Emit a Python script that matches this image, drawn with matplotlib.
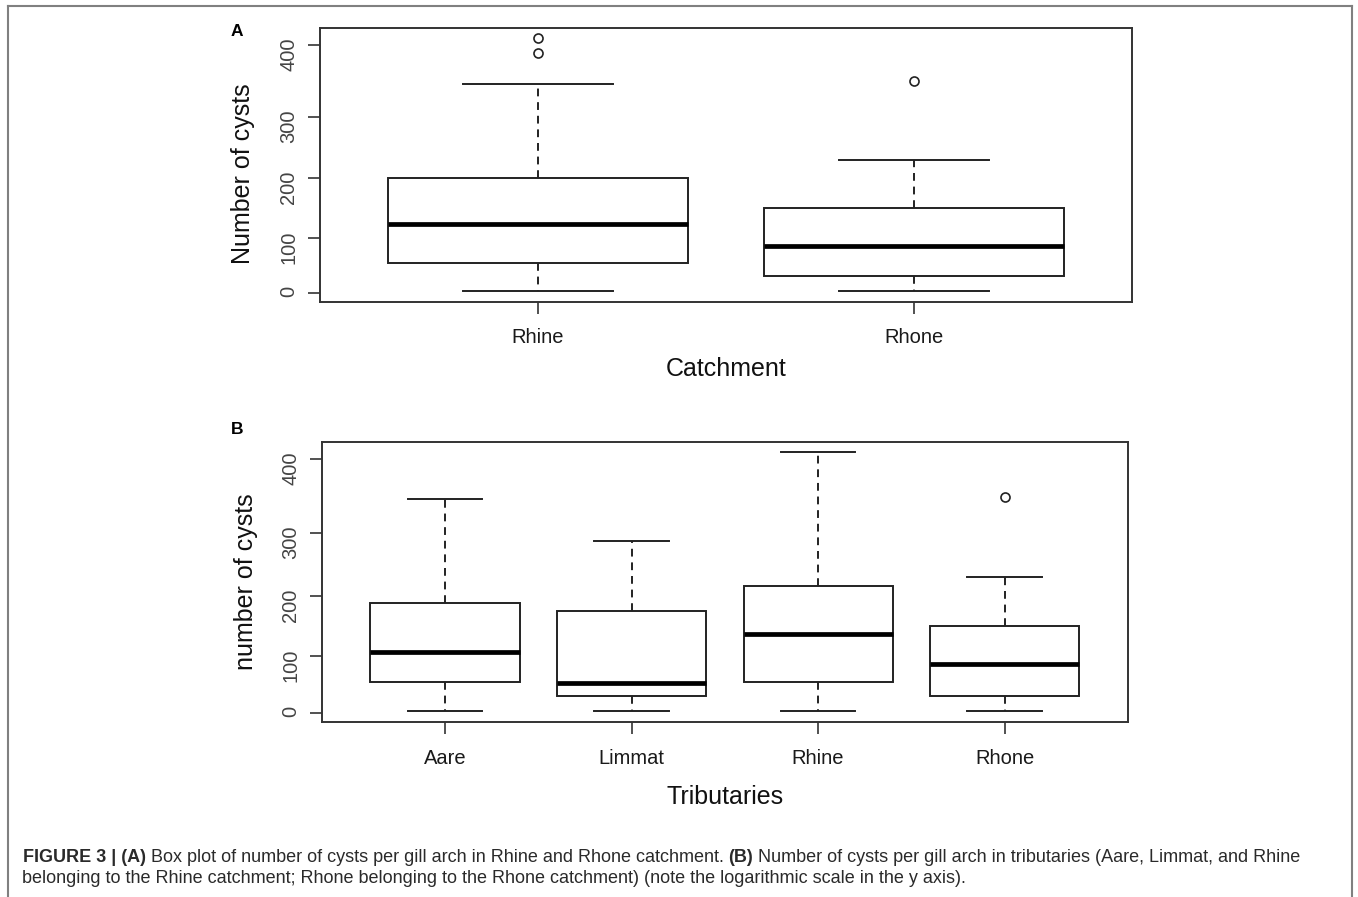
import numpy as np
import matplotlib
matplotlib.use("Agg")
import matplotlib.pyplot as plt
from matplotlib.lines import Line2D

plt.rcParams['font.family'] = ['Liberation Sans', 'DejaVu Sans']

# ---------------- data ----------------
catch_labels = ['Rhine', 'Rhone']
catch_whislo = [4, 4]
catch_q1 = [54, 30.6]
catch_med = [123, 85.5]
catch_q3 = [200, 149.5]
catch_whishi = [346, 230]
catch_fliers = [[389, 410], [349.5]]

trib_labels = ['Aare', 'Limmat', 'Rhine', 'Rhone']
trib_whislo = [4, 4, 4, 4]
trib_q1 = [54, 30.2, 54, 30.6]
trib_med = [106.7, 53.4, 136, 85.5]
trib_q3 = [188.8, 175, 215.5, 149.5]
trib_whishi = [346, 287.7, 409, 230]
trib_fliers = [[], [], [], [349.5]]

y_ticks = [0, 100, 200, 300, 400]

# --------------- figure ---------------
W, H, DPI = 1358, 897, 100
fig = plt.figure(figsize=(W / DPI, H / DPI), dpi=DPI)


def px_axes(l, t, r, b):
    return fig.add_axes([l / W, 1 - b / H, (r - l) / W, (b - t) / H])


def make_scale(vals, pos):
    kv = np.asarray(vals, float)
    kp = np.asarray(pos, float)
    return (lambda v: np.interp(v, kv, kp)), (lambda p: np.interp(p, kp, kv))


EDGE = '#222222'


def draw_panel(ax, labels, whislo, q1, med, q3, whishi, fliers, scale_pos, ylim,
               xlim, xlabel, ylabel, xpad, xlab_y, ylab_x, ylab_y):
    stats = [dict(label=lab, whislo=a, q1=b, med=c, q3=d, whishi=e, fliers=f)
             for lab, a, b, c, d, e, f in zip(labels, whislo, q1, med, q3, whishi, fliers)]
    n = len(labels)
    fwd, inv = make_scale([-100, 0, 100, 200, 300, 400, 500], scale_pos)
    ax.set_yscale('function', functions=(fwd, inv))
    ax.bxp(stats, positions=list(range(1, n + 1)), widths=0.8, capwidths=0.4,
           patch_artist=True, showfliers=True,
           boxprops=dict(facecolor='white', edgecolor=EDGE, linewidth=1.4),
           medianprops=dict(color='black', linewidth=3.4, solid_capstyle='butt'),
           whiskerprops=dict(color=EDGE, linewidth=1.4, linestyle=(0, (4, 3))),
           capprops=dict(color=EDGE, linewidth=1.4),
           flierprops=dict(marker='o', markerfacecolor='none', markeredgecolor=EDGE,
                           markersize=6.5, markeredgewidth=1.2, linestyle='none'))
    ax.set_xlim(*xlim)
    ax.set_ylim(*ylim)
    ax.set_yticks(y_ticks)
    ax.set_yticklabels([str(v) for v in y_ticks])
    ax.set_xticks(list(range(1, n + 1)))
    ax.set_xticklabels(labels)
    for s in ax.spines.values():
        s.set_linewidth(1.4)
        s.set_color('#333333')
    ax.tick_params(axis='y', direction='out', length=8.5, width=1.2, color='#333333',
                   labelsize=14.5, labelcolor='#444444', pad=7, labelrotation=90)
    ax.tick_params(axis='x', direction='out', length=8.5, width=1.2, color='#333333',
                   labelsize=14.5, labelcolor='#1a1a1a', pad=xpad)
    ax.set_xlabel(xlabel, fontsize=18, color='#111111')
    ax.xaxis.label.set_va('baseline')
    ax.xaxis.set_label_coords(0.5, xlab_y)
    ax.set_ylabel(ylabel, fontsize=18, color='#111111')
    ax.yaxis.label.set_va('center')
    ax.yaxis.set_label_coords(ylab_x, ylab_y)


axA = px_axes(320, 27.7, 1132, 301.7)
draw_panel(axA, catch_labels, catch_whislo, catch_q1, catch_med, catch_q3,
           catch_whishi, catch_fliers,
           scale_pos=[-100, 0, 100, 206.8, 317.6, 446.6, 575.6],
           ylim=(-15, 424), xlim=(0.42, 2.58),
           xlabel='Catchment', ylabel='Number of cysts', xpad=10.5,
           xlab_y=-0.271, ylab_x=-0.0948, ylab_y=0.466)

axB = px_axes(322, 441.7, 1127.7, 721.7)
draw_panel(axB, trib_labels, trib_whislo, trib_q1, trib_med, trib_q3,
           trib_whishi, trib_fliers,
           scale_pos=[-100, 0, 100, 204.7, 314.1, 443.8, 573.5],
           ylim=(-14.7, 423.3), xlim=(0.34, 4.66),
           xlabel='Tributaries', ylabel='number of cysts', xpad=11.5,
           xlab_y=-0.295, ylab_x=-0.0943, ylab_y=0.5)

fig.text(237 / W, 1 - 32 / H, 'A', fontsize=12.5, weight='bold', ha='center', va='center')
fig.text(237 / W, 1 - 429.5 / H, 'B', fontsize=12.5, weight='bold', ha='center', va='center')

# frame around the figure (top, left, right)
fc = '#808080'
fig.add_artist(Line2D([7.5 / W, 1352 / W], [1 - 6.5 / H, 1 - 6.5 / H], transform=fig.transFigure, color=fc, lw=1.5))
fig.add_artist(Line2D([7.5 / W, 7.5 / W], [0, 1 - 6.5 / H], transform=fig.transFigure, color=fc, lw=1.5))
fig.add_artist(Line2D([1352 / W, 1352 / W], [0, 1 - 6.5 / H], transform=fig.transFigure, color=fc, lw=1.5))

# ---------------- caption ----------------
cap_line1 = [("FIGURE 3 | (A)", 'bold'),
             ("Box plot of number of cysts per gill arch in Rhine and Rhone catchment.", 'normal'),
             ("(B)", 'bold'),
             ("Number of cysts per gill arch in tributaries (Aare, Limmat, and Rhine", 'normal')]
cap_line2 = [("belonging to the Rhine catchment; Rhone belonging to the Rhone catchment) "
              "(note the logarithmic scale in the y axis).", 'normal')]

renderer = fig.canvas.get_renderer()


def measure(s, weight, size):
    t = fig.text(0, 0, s, fontsize=size, weight=weight)
    w = t.get_window_extent(renderer).width
    t.remove()
    return w


def line_width(pieces, size):
    sp = measure('a a', 'normal', size) - measure('aa', 'normal', size)
    return sum(measure(s, w, size) for s, w in pieces) + sp * (len(pieces) - 1), sp


base = 11.0
w0, _ = line_width(cap_line1, base)
cap_size = base * (1277.0 / w0)
cap_color = '#2a2a2a'


def draw_line(pieces, x0, ybase, size):
    _, sp = line_width(pieces, size)
    x = x0
    for s, w in pieces:
        fig.text(x / W, 1 - ybase / H, s, fontsize=size, weight=w, color=cap_color,
                 ha='left', va='baseline')
        x += measure(s, w, size) + sp


draw_line(cap_line1, 22.7, 861.7, cap_size)
draw_line(cap_line2, 21.7, 883.3, cap_size)

fig.savefig('out.png', dpi=DPI)
